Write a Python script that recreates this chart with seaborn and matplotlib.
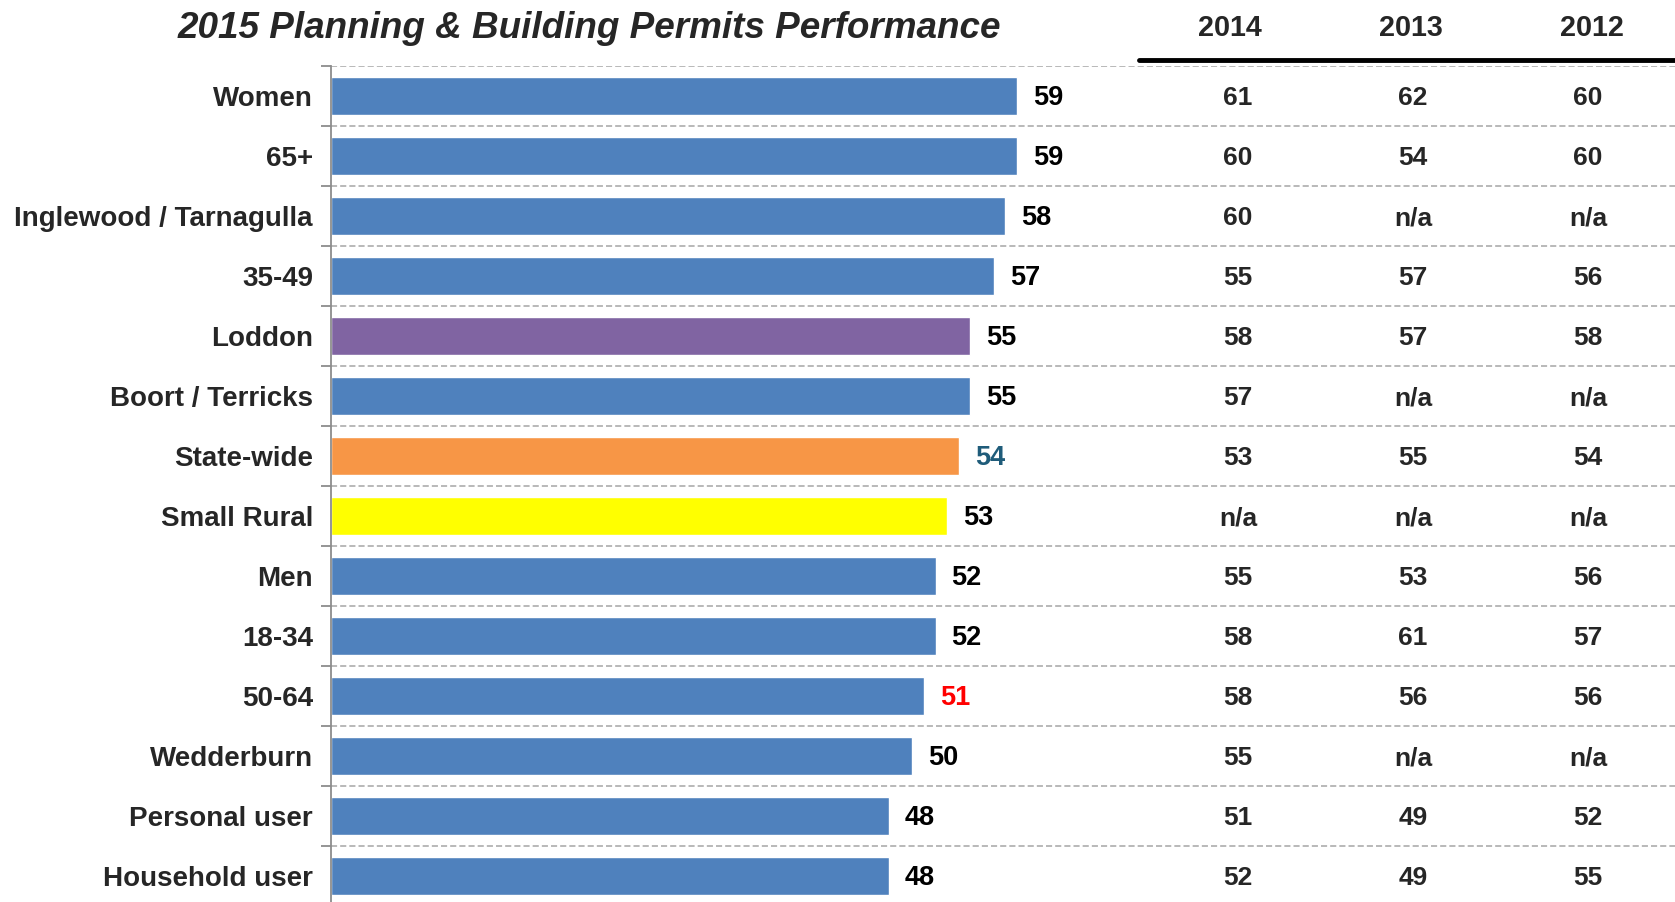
import matplotlib
matplotlib.use("Agg")
import matplotlib.pyplot as plt
import matplotlib.transforms as mtransforms
import seaborn as sns
import pandas as pd

# Results per group
groups = ["Women", "65+", "Inglewood / Tarnagulla", "35-49", "Loddon",
          "Boort / Terricks", "State-wide", "Small Rural", "Men", "18-34",
          "50-64", "Wedderburn", "Personal user", "Household user"]
score_2015 = [59, 59, 58, 57, 55, 55, 54, 53, 52, 52, 51, 50, 48, 48]
score_2014 = ["61", "60", "60", "55", "58", "57", "53", "n/a", "55", "58", "58", "55", "51", "52"]
score_2013 = ["62", "54", "n/a", "57", "57", "n/a", "55", "n/a", "53", "61", "56", "n/a", "49", "49"]
score_2012 = ["60", "60", "n/a", "56", "58", "n/a", "54", "n/a", "56", "57", "56", "n/a", "52", "55"]
year_headers = ["2014", "2013", "2012"]
title = "2015 Planning & Building Permits Performance"

BLUE, PURPLE, ORANGE, YELLOW = "#4F81BD", "#8064A2", "#F79646", "#FFFF00"
bar_colors = [BLUE] * len(groups)
bar_colors[groups.index("Loddon")] = PURPLE
bar_colors[groups.index("State-wide")] = ORANGE
bar_colors[groups.index("Small Rural")] = YELLOW
label_colors = ["black"] * len(groups)
label_colors[groups.index("State-wide")] = "#1F5C7A"
label_colors[groups.index("50-64")] = "#FF0000"

TEXT = "#262626"
sns.set_theme(style="white")
plt.rcParams["font.family"] = ["Liberation Sans", "DejaVu Sans"]

W, H = 1675, 902
fig = plt.figure(figsize=(W / 100, H / 100), dpi=100)
ax_left, ax_top, ax_bottom = 331 / W, 1 - 66 / H, 1 - 906 / H
ax = fig.add_axes([ax_left, ax_bottom, 1 - ax_left, ax_top - ax_bottom])

df = pd.DataFrame({"group": groups, "score": score_2015})
sns.barplot(data=df, x="score", y="group", hue="group", palette=bar_colors,
            legend=False, width=0.62, saturation=1, ax=ax, orient="h")

px_per_unit = 11.625
ax.set_xlim(0, (W - 331) / px_per_unit)
ax.set_ylim(len(groups) - 0.5, -0.5)
ax.set_xlabel("")
ax.set_ylabel("")
ax.set_xticks([])

# Row separators
ax.set_yticks([i - 0.5 for i in range(len(groups) + 1)], minor=True)
ax.grid(True, which="minor", axis="y", color="#A6A6A6", linestyle=(0, (4, 2)), linewidth=1.1)
ax.grid(False, which="major")
ax.tick_params(axis="y", which="major", length=0, pad=13)
ax.tick_params(axis="y", which="minor", left=True, length=7, width=1.3, color="#8C8C8C", direction="out")
for side in ["top", "right", "bottom"]:
    ax.spines[side].set_visible(False)
ax.spines["left"].set_color("#8C8C8C")
ax.spines["left"].set_linewidth(1.3)
for lab in ax.get_yticklabels():
    lab.set_fontsize(20)
    lab.set_fontweight("bold")
    lab.set_color(TEXT)

dy = 0.04  # nudge digits down to sit on the row centre

# Value labels at bar ends
for i, (v, c) in enumerate(zip(score_2015, label_colors)):
    ax.text(v + 16 / px_per_unit, i + dy, str(v), ha="left", va="center",
            fontsize=19.5, fontweight="bold", color=c)

# Previous years table
trans = mtransforms.blended_transform_factory(fig.transFigure, ax.transData)
col_x = [1238 / W, 1413 / W, 1588 / W]
for cx, col in zip(col_x, [score_2014, score_2013, score_2012]):
    for i, s in enumerate(col):
        ax.text(cx, i + dy, s, transform=trans, ha="center", va="center",
                fontsize=19, fontweight="bold", color=TEXT, clip_on=False)

header_x = [1230 / W, 1411 / W, 1592 / W]
for hx, yr in zip(header_x, year_headers):
    fig.text(hx, 1 - 28 / H, yr, ha="center", va="center",
             fontsize=20.7, fontweight="bold", color=TEXT)
fig.add_artist(plt.Line2D([1139 / W, 1.0], [1 - 60 / H, 1 - 60 / H],
                          transform=fig.transFigure, color="black", linewidth=3.5))

fig.text(589 / W, 1 - 29 / H, title, ha="center", va="center",
         fontsize=26.6, fontweight="bold", fontstyle="italic", color=TEXT)

fig.savefig("out.png", dpi=100, facecolor="white")
